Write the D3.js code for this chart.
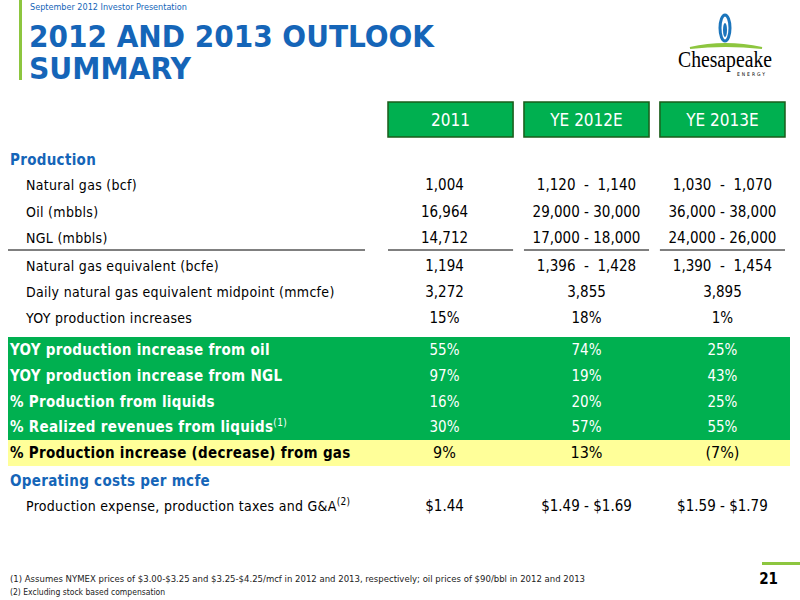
<!DOCTYPE html>
<html><head><meta charset="utf-8">
<script src="https://cdn.jsdelivr.net/npm/d3@7"></script>
<style>body{margin:0;background:#fff}text{font-family:"Liberation Sans Narrow","DejaVu Sans Condensed",sans-serif}</style>
</head><body>
<svg id="c" width="800" height="600"></svg>
<script>
const columns = ["2011", "YE 2012E", "YE 2013E"]
const rowLabels = ["Production", "Natural gas (bcf)", "Oil (mbbls)", "NGL (mbbls)", "Natural gas equivalent (bcfe)",
  "Daily natural gas equivalent midpoint (mmcfe)", "YOY production increases", "YOY production increase from oil",
  "YOY production increase from NGL", "% Production from liquids", "% Realized revenues from liquids",
  "% Production increase (decrease) from gas", "Operating costs per mcfe", "Production expense, production taxes and G&A"]
const rowSup = ["", "", "", "", "", "", "", "", "", "", "(1)", "", "", "(2)"]
const rowKind = ["head", "plain", "plain", "plain", "plain", "plain", "plain", "green", "green", "green", "green", "yellow", "head", "plain"]
const v2011 = ["", "1,004", "16,964", "14,712", "1,194", "3,272", "15%", "55%", "97%", "16%", "30%", "9%", "", "$1.44"]
const v2012 = ["", "1,120  -  1,140", "29,000 - 30,000", "17,000 - 18,000", "1,396  -  1,428", "3,855", "18%", "74%", "19%", "20%", "57%", "13%", "", "$1.49 - $1.69"]
const v2013 = ["", "1,030  -  1,070", "36,000 - 38,000", "24,000 - 26,000", "1,390  -  1,454", "3,895", "1%", "25%", "43%", "25%", "55%", "(7%)", "", "$1.59 - $1.79"]
const values = [v2011, v2012, v2013]

const svg = d3.select("#c")
const blue = "#1565b8", green = "#00b050"

// header
svg.append("rect").attr("x", 19).attr("y", 0).attr("width", 3).attr("height", 80).attr("fill", "#8dc63f")
svg.append("text").attr("x", 30).attr("y", 10).attr("font-size", 9).attr("fill", blue).text("September 2012 Investor Presentation")
svg.append("text").attr("x", 29).attr("y", 47).attr("font-size", 30).attr("font-weight", "bold").attr("fill", blue)
  .attr("textLength", 405).attr("lengthAdjust", "spacingAndGlyphs").text("2012 AND 2013 OUTLOOK")
svg.append("text").attr("x", 29).attr("y", 79).attr("font-size", 30).attr("font-weight", "bold").attr("fill", blue)
  .attr("textLength", 162).attr("lengthAdjust", "spacingAndGlyphs").text("SUMMARY")

// logo
const logo = svg.append("g")
logo.append("ellipse").attr("cx", 725).attr("cy", 28).attr("rx", 5).attr("ry", 13).attr("fill", "none").attr("stroke", "#1b75bc").attr("stroke-width", 3)
logo.append("ellipse").attr("cx", 725).attr("cy", 30).attr("rx", 2).attr("ry", 7).attr("fill", "#1b75bc")
logo.append("path").attr("d", "M690,48 Q725,40 762,48 Q725,44 690,48Z").attr("fill", "#8dc63f").attr("stroke", "#8dc63f").attr("stroke-width", 2)
logo.append("text").attr("x", 725).attr("y", 67).attr("text-anchor", "middle").attr("font-size", 24)
  .style("font-family", "Liberation Serif, serif").attr("textLength", 94).attr("lengthAdjust", "spacingAndGlyphs").text("Chesapeake")
logo.append("text").attr("x", 752).attr("y", 76).attr("text-anchor", "middle").attr("font-size", 5).attr("letter-spacing", 2).text("ENERGY")

// scales
const x = d3.scaleBand().domain(columns).range([388, 785]).paddingInner(0.08)
const rowY = [160, 185, 212, 238, 266, 292, 318, 350, 376, 402, 427, 453, 481, 506]
const y = d3.scaleOrdinal().domain(rowLabels).range(rowY)

// column headers
const hdr = svg.selectAll("g.hdr").data(columns).enter().append("g")
hdr.append("rect").attr("x", d => x(d)).attr("y", 102).attr("width", x.bandwidth()).attr("height", 35)
  .attr("fill", green).attr("stroke", "#1a5c1a").attr("stroke-width", 1.5)
hdr.append("text").attr("x", d => x(d) + x.bandwidth() / 2).attr("y", 126).attr("text-anchor", "middle")
  .attr("font-size", 17).attr("fill", "#fff").text(d => d)

// band backgrounds
const idx = rowLabels.map((d, i) => i)
svg.selectAll("rect.band").data(idx.filter(i => rowKind[i] == "green" || rowKind[i] == "yellow")).enter().append("rect")
  .attr("x", 8).attr("width", 782).attr("y", i => y(rowLabels[i]) - 13).attr("height", 26)
  .attr("fill", i => rowKind[i] == "green" ? green : "#ffff99")

// separator under NGL
const sepY = y("NGL (mbbls)") + 12
svg.append("line").attr("x1", 8).attr("x2", 365).attr("y1", sepY).attr("y2", sepY).attr("stroke", "#000")
columns.forEach(c => svg.append("line").attr("x1", x(c)).attr("x2", x(c) + x.bandwidth()).attr("y1", sepY).attr("y2", sepY).attr("stroke", "#000"))

// labels
const lab = svg.selectAll("text.lab").data(idx).enter().append("text")
  .attr("x", i => rowKind[i] == "plain" ? 26 : 10)
  .attr("y", i => y(rowLabels[i]) + 5)
  .attr("font-size", i => rowKind[i] == "plain" ? 14 : 15)
  .attr("font-weight", i => rowKind[i] == "plain" ? "normal" : "bold")
  .attr("letter-spacing", 0.3)
  .attr("fill", i => rowKind[i] == "head" ? blue : rowKind[i] == "green" ? "#fff" : "#000")
lab.append("tspan").text(i => rowLabels[i])
lab.append("tspan").attr("dy", -6).attr("font-size", 10).attr("font-weight", "normal").text(i => rowSup[i])

// values
columns.forEach((c, ci) => {
  svg.selectAll("text.v" + ci).data(idx.filter(i => values[ci][i] !== "")).enter().append("text")
    .attr("x", x(c) + x.bandwidth() / 2 + (ci == 0 ? -6 : 0))
    .attr("y", i => y(rowLabels[i]) + 5)
    .attr("text-anchor", "middle")
    .attr("font-size", i => rowKind[i] == "yellow" ? 16 : 15)
    .attr("fill", i => rowKind[i] == "green" ? "#fff" : "#000")
    .attr("xml:space", "preserve")
    .text(i => values[ci][i])
})

// footer
svg.append("text").attr("x", 10).attr("y", 582).attr("font-size", 8.5).attr("fill", "#222")
  .attr("textLength", 575).attr("lengthAdjust", "spacingAndGlyphs")
  .text("(1)   Assumes NYMEX prices of $3.00-$3.25 and $3.25-$4.25/mcf in 2012 and 2013, respectively; oil prices of $90/bbl in 2012 and 2013")
svg.append("text").attr("x", 10).attr("y", 595).attr("font-size", 8.5).attr("fill", "#222").text("(2)   Excluding stock based compensation")
svg.append("rect").attr("x", 762).attr("y", 562).attr("width", 38).attr("height", 3).attr("fill", "#8dc63f")
svg.append("text").attr("x", 778).attr("y", 584).attr("text-anchor", "end").attr("font-size", 15).attr("font-weight", "bold").text("21")
</script>
</body></html>
